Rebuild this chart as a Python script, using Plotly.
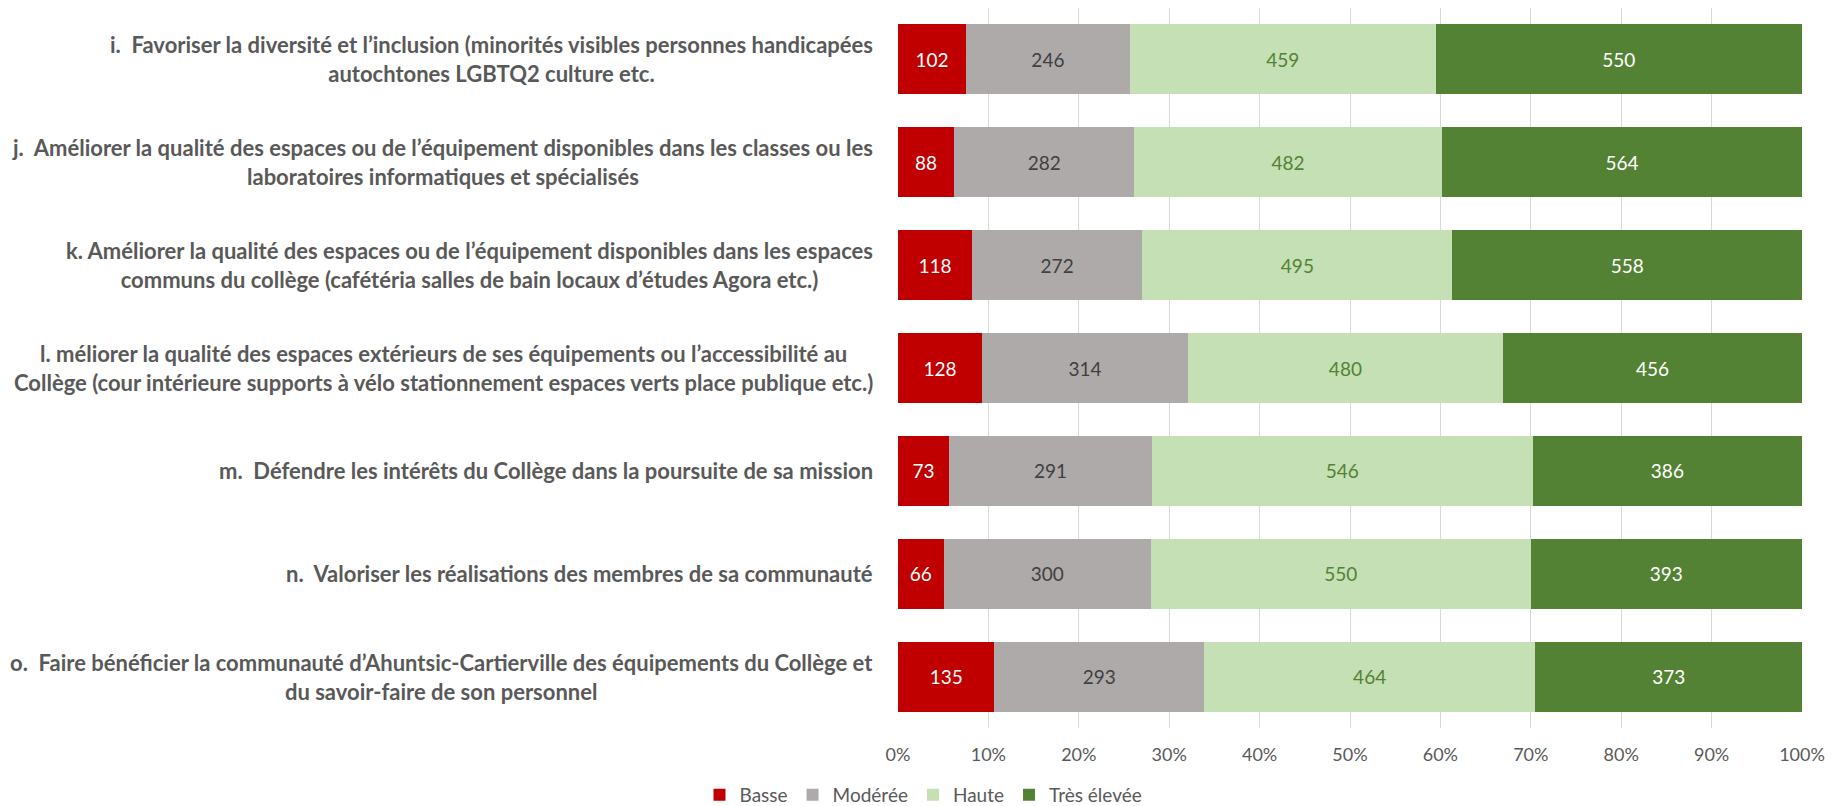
import plotly.graph_objects as go

# Données
categories = [
    "i.  Favoriser la diversité et l’inclusion (minorités visibles personnes handicapées<br>autochtones LGBTQ2 culture etc.",
    "j.  Améliorer la qualité des espaces ou de l’équipement disponibles dans les classes ou les<br>laboratoires informatiques et spécialisés",
    "k. Améliorer la qualité des espaces ou de l’équipement disponibles dans les espaces<br>communs du collège (cafétéria salles de bain locaux d’études Agora etc.)",
    "l. méliorer la qualité des espaces extérieurs de ses équipements ou l’accessibilité au<br>Collège (cour intérieure supports à vélo stationnement espaces verts place publique etc.)",
    "m.  Défendre les intérêts du Collège dans la poursuite de sa mission",
    "n.  Valoriser les réalisations des membres de sa communauté",
    "o.  Faire bénéficier la communauté d’Ahuntsic-Cartierville des équipements du Collège et<br>du savoir-faire de son personnel",
]
keys = ["i", "j", "k", "l", "m", "n", "o"]

basse = [102, 88, 118, 128, 73, 66, 135]
moderee = [246, 282, 272, 314, 291, 300, 293]
haute = [459, 482, 495, 480, 546, 550, 464]
tres_elevee = [550, 564, 558, 456, 386, 393, 373]

series = [
    ("Basse", basse, "#C00000", "#FFFFFF"),
    ("Modérée", moderee, "#AEAAAA", "#404040"),
    ("Haute", haute, "#C5E0B4", "#548235"),
    ("Très élevée", tres_elevee, "#548235", "#FFFFFF"),
]

FONT = "Lato, 'Open Sans', sans-serif"

fig = go.Figure()
for name, vals, color, txtcolor in series:
    fig.add_trace(go.Bar(
        y=keys, x=vals, name=name, orientation="h",
        marker=dict(color=color, line=dict(width=0)),
        text=[str(v) for v in vals], textposition="inside",
        insidetextanchor="middle", textangle=0,
        textfont=dict(color=txtcolor, size=19, family=FONT),
    ))

# étiquettes de catégories (lignes centrées, bloc aligné à droite)
for k, lab in zip(keys, categories):
    fig.add_annotation(
        x=0, y=k, xref="paper", yref="y", xanchor="right", yanchor="middle",
        xshift=-23, text=lab, showarrow=False, align="center",
        font=dict(family=FONT, size=22, color="#595959", weight="bold"),
    )

# la page ajoute une marge de 8 px autour du graphique
fig.update_layout(
    barmode="stack", barnorm="percent", bargap=0.32,
    width=1831, height=798,
    margin=dict(l=890, r=37, t=0, b=78, autoexpand=False),
    plot_bgcolor="white", paper_bgcolor="white",
    font=dict(family=FONT, color="#595959"),
    legend=dict(orientation="h", x=0.5, xref="container", xanchor="center",
                y=0.014, yref="container", yanchor="middle",
                font=dict(size=19, color="#595959", family=FONT),
                itemwidth=30, traceorder="normal"),
    xaxis=dict(range=[0, 100], dtick=10, ticksuffix="%", showgrid=True,
               gridcolor="#D9D9D9", gridwidth=1, zeroline=False, showline=False,
               tickfont=dict(size=18, color="#595959", family=FONT),
               ticks="", ticklabelstandoff=14),
    yaxis=dict(autorange="reversed", showticklabels=False, showgrid=False,
               zeroline=False, showline=False),
)

fig.write_html("out.html")
